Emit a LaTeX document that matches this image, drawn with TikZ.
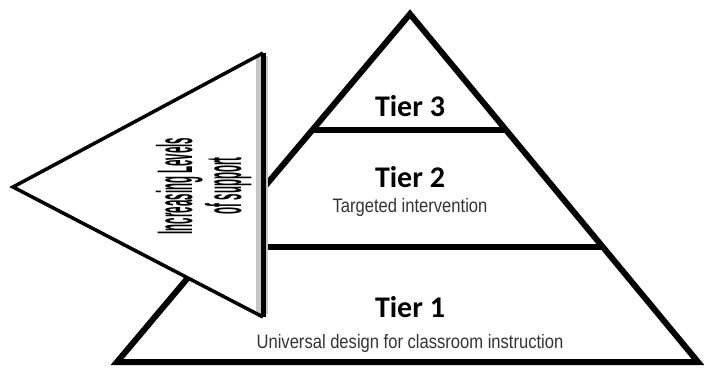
\documentclass[tikz,border=0pt]{standalone}
\usepackage{graphicx}
\usepackage{fontspec}
\setmainfont{Liberation Sans}
\newfontfamily\tierfont{Carlito}
\newfontfamily\narrowfont[FakeStretch=0.85]{Liberation Sans}
\newfontfamily\arrowfont{Liberation Sans}
\usetikzlibrary{calc}
\begin{document}
\begin{tikzpicture}[x=1pt,y=-1pt,
  pyr/.style={line width=6pt},
  tierlabel/.style={font=\tierfont\bfseries\fontsize{30}{30}\selectfont, inner sep=0pt, anchor=base},
  sublabel/.style={font=\narrowfont\fontsize{19.5}{20}\selectfont, text=black!80, inner sep=0pt, anchor=base},
  vlabel/.style={rotate=90, anchor=base, inner sep=0pt, font=\arrowfont\bfseries\fontsize{50}{50}\selectfont, text=black}]
\useasboundingbox (0,0) rectangle (704,374);
% pyramid
\coordinate (apex) at (410,14);
\coordinate (bl) at (117,362);
\coordinate (br) at (698,362);
\draw[pyr] (apex) -- (br) -- (bl) -- cycle;
\coordinate (t3l) at ($(apex)!0.3333!(bl)$);
\coordinate (t3r) at ($(apex)!0.3333!(br)$);
\coordinate (t2l) at ($(apex)!0.6695!(bl)$);
\coordinate (t2r) at ($(apex)!0.6695!(br)$);
\draw[pyr] (t3l) -- (t3r);
\draw[pyr] (t2l) -- (t2r);
% labels
\node[tierlabel] (tier3) at (410,117) {Tier 3};
\node[tierlabel] (tier2) at (410,188) {Tier 2};
\node[sublabel] (sub2) at (410,213) {Targeted intervention};
\node[tierlabel] (tier1) at (410,317) {Tier 1};
\node[sublabel] (sub1) at (410,348) {Universal design for classroom instruction};
% arrow triangle
\coordinate (tip) at (13,187);
\coordinate (atop) at (263,53);
\coordinate (abot) at (263,317);
\fill[white] (tip) -- (atop) -- (abot) -- cycle;
\draw[gray!45, line width=12pt] (262,56) -- (262,314);
\draw[line width=3.5pt] (abot) -- (tip) -- (atop);
\draw[line width=5pt] (atop) -- (abot);
\node[vlabel] (lev) at (192,186) {\scalebox{0.23}[1]{Increasing Levels}};
\node[vlabel] (sup) at (241,186) {\scalebox{0.23}[1]{of support}};
\end{tikzpicture}
\end{document}
